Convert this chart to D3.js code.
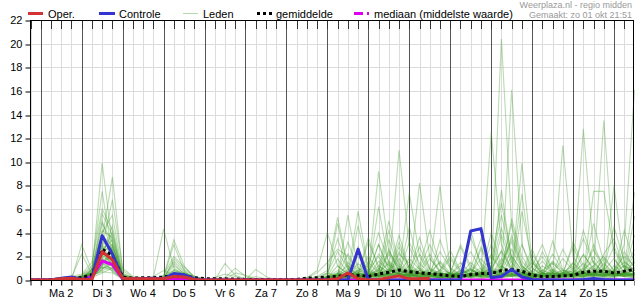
<!DOCTYPE html>
<html><head><meta charset="utf-8">
<script src="https://cdn.jsdelivr.net/npm/d3@7"></script>
<style>body{margin:0;background:#fff;} svg{display:block;font-family:"Liberation Sans",Arial,sans-serif;}</style>
</head><body><svg id="c" width="635" height="300"></svg>
<script>
// ---- data (6-hourly steps from zo 1 okt 18:00) ----
const dayLabels = ["Ma 2","Di 3","Wo 4","Do 5","Vr 6","Za 7","Zo 8","Ma 9","Di 10","Wo 11","Do 12","Vr 13","Za 14","Zo 15"];
const yTicks = [0,2,4,6,8,10,12,14,16,18,20,22];
const legendLabels = ["Oper.","Controle","Leden","gemiddelde","mediaan (middelste waarde)"];
const headerLines = ["Weerplaza.nl - regio midden","Gemaakt: zo 01 okt 21:51"];

const oper = [0,0,0,0.1,0.15, 0.05,0.05,2.4,1.7,0.15, 0.1,0.1,0.1,0.1,0.3,0.25,0.05, 0,0,0,0,0,0,0,0,0,0,0,0, 0,0.1,0.6,0.1,0,0.05,0.2,0.35,0.1,0.1,0.15];
const controle = [0,0,0,0.15,0.25, 0.05,0.1,3.75,2.2,0.1, 0.1,0.1,0.15,0.1,0.55,0.45,0.1, 0,0,0,0,0,0,0,0,0,0,0,0, 0,0,0,2.6,0,0,0,0,0,0,0,0, 0,0,4.15,4.35,0.2,0.3,0.9,0.25,0.05,0,0,0, 0,0.05,0.12,0.05,0,0,0];
const gemiddelde = [0,0,0.02,0.1,0.2, 0.2,0.45,2.6,2.1,0.25, 0.15,0.2,0.2,0.25,0.4,0.35,0.2, 0.12,0.1,0.1,0.08,0.05,0.03,0.02,0.02,0.03,0.05,0.15,0.2, 0.25,0.3,0.45,0.4,0.3,0.5,0.65,0.85,0.7,0.6,0.55,0.45, 0.35,0.3,0.45,0.55,0.55,0.8,0.9,0.75,0.4,0.3,0.3,0.35, 0.4,0.65,0.75,0.75,0.6,0.75,0.9];
const mediaan = [0,0,0,0.02,0.05, 0.05,0.3,1.6,1.3,0.1, 0.05,0.02,0.02,0.05,0.15,0.1,0.03, 0,0,0,0,0,0,0,0,0,0,0,0, 0,0,0,0,0,0,0,0,0,0,0,0, 0,0,0,0,0,0,0,0,0,0,0,0, 0,0,0,0,0,0,0];

const leden = [
[0,0,0,0.1,0.2, 0.3,0.8,9.9,3.0,0.3, 0.1,0,0,0.2,0.5,0.3,0.1, 0,0,0,0,0,0,0,0,0,0,0,0.1, 0.2,0.5,1.2,0.4,0.2,0.8,2.4,1.1,0.5,0.3,0.2,0.4, 0.3,0.1,0.5,0.8,0.4,1.5,3.2,1.0,0.2,0.1,0.3,0.5, 0.8,2.1,1.0,0.4,0.6,1.2,0.9],
[0,0,0,0,0.1, 0.2,0.6,3.5,8.7,0.8, 0.2,0.1,0,0.1,1.2,0.6,0.2, 0.1,0,0,0,0,0,0,0,0,0,0.2,0.6, 1.5,2.6,2.0,0.6,0.3,1.0,0.5,2.2,1.4,0.6,0.3,0.2, 0.5,1.2,2.4,0.9,0.3,20.4,4.5,1.2,0.4,0.2,0.8,0.5, 1.5,0.6,0.3,2.2,3.5,1.0,0.6],
[0,0,0.1,0.2,0.1, 0.4,1.2,7.5,2.1,0.2, 0,0.1,0.3,0.8,0.4,0.1,0, 0,0,1.4,0.4,0.1,0,0,0,0,0,0,0, 0,0.2,0.6,5.8,1.0,0.4,0.2,0.6,1.8,0.9,0.5,0.3, 0.2,0.6,1.0,0.4,12.5,3.0,0.8,0.3,0.2,0.5,1.4,0.6, 0.4,1.0,2.6,1.2,0.5,0.3,0.2],
[0,0,0,0,0, 0.1,0.5,2.8,6.8,1.0, 0.3,0.2,0.1,0,0.3,0.2,0.1, 0,0,0,0,0,0,0,0,0,0,0,0, 0,0.3,0.5,0.2,0.6,9.2,2.5,0.8,0.4,0.3,0.6,1.5, 0.4,0.2,0.6,1.8,0.8,0.5,16.1,3.0,0.6,0.2,0.1,0.3, 0.6,1.4,0.8,0.5,0.9,2.0,1.2],
[0,0,0,0.2,0.3, 0.5,1.5,6.0,4.2,0.4, 0.2,0.1,0,0.4,2.0,1.1,0.3, 0.1,0,0,0,0,0,0,0,0,0,0,0, 0.1,0.4,0.9,0.3,0.5,1.2,0.6,11.0,2.8,0.9,0.4,0.2, 0.3,0.5,0.9,0.3,0.2,7.6,1.5,0.4,0.2,0.6,0.3,0.2, 0.5,0.2,0.8,13.5,1.8,0.6,0.4],
[0,0,0,0.1,0.1, 0.3,0.9,4.0,5.5,0.6, 0.1,0,0,0.3,0.8,0.5,0.2, 0,0,0,0,0,0,0,0,0,0,0,0, 0.3,0.2,5.5,1.0,0.4,0.6,0.9,0.5,0.3,8.2,1.9,0.6, 0.3,0.2,0.5,0.7,0.4,1.2,0.6,9.9,1.5,0.5,0.2,0.4, 0.3,12.8,2.5,0.9,0.4,0.6,1.0],
[0,0,0.1,0,0, 3.0,0.8,5.0,2.3,0.3, 0.1,0.2,0.1,0,0.5,0.3,0, 0,0,0,0,0,0,0,0,0,0,0.1,0.3, 0.8,5.3,1.2,0.5,0.3,0.6,1.4,0.7,7.4,2.0,0.6,0.3, 0.2,0.4,1.0,3.5,0.8,0.4,0.9,0.5,0.3,0.2,3.3,0.9, 0.4,0.3,0.7,0.5,8.0,1.2,0.6],
[0,0,0,0,0.2, 2.2,0.5,2.0,4.6,0.5, 0.2,0.1,0.2,4.3,1.0,0.4,0.1, 0,0,0,0,0,0,0,0,0,0,0,0, 0.1,0.2,0.4,0.2,0.3,0.5,0.4,0.9,0.6,0.4,1.0,8.0, 0.8,0.4,0.6,0.3,0.2,0.4,0.8,0.5,0.4,0.3,0.6,11.4, 2.0,0.6,0.4,0.8,0.5,3.0,16.1],
[0,0,0,0,0, 0.2,0.9,4.2,3.6,0.2, 0,0,0.1,0.3,3.4,1.2,0.2, 0,0,0,0,0,0,0,0,0,0,0,0, 0,0.1,0.3,0.8,0.5,6.2,1.3,0.5,0.3,0.8,0.5,0.3, 0.3,0.8,0.5,0.4,0.3,0.6,0.8,7.3,1.0,0.4,0.2,0.3, 0.6,0.4,7.5,7.5,2.5,1.0,7.4],
[0,0,0,0,0, 0.1,0.6,3.8,2.9,0.3, 0.1,0,0,0.2,3.0,0.8,0.1, 0,0,0.2,1.0,0.3,0,0,0,0,0,0,0, 0.2,4.8,1.0,0.4,0.3,1.6,0.8,0.5,1.2,0.6,0.4,0.2, 0.4,1.5,0.6,0.3,1.2,5.5,1.8,0.6,0.4,0.8,1.5,0.6, 0.4,0.9,1.6,0.6,0.3,0.5,0.8],
[0,0,0,0,0, 0.3,0.4,3.2,2.6,0.2, 0.1,0.1,0,0,1.8,0.9,0.3, 0,0,0,0,0,0.9,0.3,0,0,0,0,0, 0,0.2,1.5,0.6,0.4,0.9,5.0,1.4,0.6,0.3,0.5,0.8, 2.5,0.8,0.4,0.6,3.0,1.0,0.5,0.8,2.6,0.6,0.3,0.5, 1.0,3.5,1.4,0.6,0.4,0.5,0.3],
[0,0,0.1,0.1,0, 0.2,0.7,2.6,3.4,0.4, 0.1,0.2,0.1,0.1,0.6,0.3,0.1, 0,0,0,0,0,0,0,0,0,0,0.2,0.8, 4.0,1.2,0.5,0.3,0.8,2.0,0.6,0.4,4.5,1.0,0.6,0.4, 0.6,0.3,4.2,1.2,0.5,0.8,4.8,1.6,0.6,0.3,0.5,0.8, 0.7,0.5,1.2,2.0,0.8,0.6,1.5],
[0,0,0,0,0, 0.1,0.3,2.3,3.0,0.1, 0,0,0,0.2,1.4,0.5,0.1, 0,0.2,0.5,0.3,0.1,0,0,0,0,0,0,0, 0.1,0.3,0.2,0.5,3.6,0.9,0.4,2.4,0.8,0.5,0.3,0.2, 0.3,0.2,0.6,1.0,0.4,3.8,1.2,0.5,0.3,0.4,0.9,0.6, 0.5,0.3,0.6,0.9,4.5,1.6,0.8],
[0,0,0,0,0.1, 0.4,1.0,2.9,1.6,0.3, 0.2,0.1,0.2,0.1,0.2,0.6,0.3, 0.1,0,0,0,0,0,0,0,0,0,0,0, 0,0.1,0.3,4.6,0.8,0.4,0.6,3.2,1.0,0.5,0.8,0.4, 0.2,0.5,0.3,0.6,2.2,0.9,0.4,0.6,1.5,0.5,0.3,0.2, 0.3,0.6,0.4,0.3,1.2,0.6,3.8],
[0,0,0,0,0, 0.2,0.5,2.0,2.4,0.2, 0.1,0,0,0,0.5,0.4,0.1, 0,0,0,0,0,0,0,0,0,0,0,0, 0.2,0.6,0.3,0.8,1.2,4.0,1.5,0.6,0.4,1.0,3.0,1.2, 0.5,0.3,0.4,0.3,0.5,1.0,3.5,1.2,0.5,0.4,0.3,0.5, 0.8,0.5,1.0,0.6,0.5,0.4,0.6],
[0,0,0,0,0, 0.1,0.4,1.8,2.7,0.3, 0.1,0,0,0,0.3,0.2,0, 0,0,0,0,0,0,0,0,0,0,0,0, 0,0,0.1,0.2,0.4,0.3,0.5,1.8,0.6,3.6,0.9,0.5, 0.6,2.8,0.9,0.4,0.3,0.6,0.5,0.3,0.2,0.4,0.6,0.4, 0.3,0.5,4.8,1.5,0.5,0.3,0.4],
[0,0,0,0.1,0, 0.3,0.6,1.5,1.9,0.2, 0,0.1,0.1,0.1,0.2,0.1,0, 0,0,0,0,0,0,0,0,0,0,0,0.1, 0.3,0.8,0.4,0.2,0.5,0.3,0.9,0.5,0.8,2.8,1.0,0.6, 0.4,0.3,0.5,0.4,0.9,2.4,0.8,0.4,1.8,0.6,0.4,0.3, 0.5,0.3,0.4,0.9,0.6,0.8,2.6],
[0,0,0,0,0, 0.1,0.2,1.2,1.6,0.1, 0,0,0,0,0.1,0.1,0, 0,0,0,0,0,0,0,0,0,0,0,0, 0,0.1,0.2,0.1,0.3,0.2,2.6,0.8,0.4,0.2,0.3,0.5, 0.3,0.2,0.3,0.5,0.3,0.2,0.4,0.6,0.3,2.4,0.8,0.4, 0.3,0.6,0.4,0.3,0.5,0.4,0.3],
[0,0,0,0,0, 0.2,0.4,1.0,1.3,0.2, 0.1,0,0,0,0.2,0.1,0, 0,0,0,0,0,0,0,0,0,0,0,0, 0.1,0.2,0.4,0.6,0.3,0.2,0.4,0.3,0.5,0.8,2.2,0.7, 0.3,0.5,0.2,0.4,0.3,0.5,0.3,0.2,0.4,0.3,0.2,0.6, 1.2,0.5,0.3,0.5,0.7,0.4,1.8],
[0,0,0,0,0, 0.1,0.3,0.8,1.1,0.1, 0,0,0,0,0.1,0,0, 0,0,0,0,0,0,0,0,0,0,0,0, 0,0,0.1,0.2,0.1,0.3,0.2,0.4,0.2,0.3,0.1,0.2, 0.1,0.3,0.2,0.1,0.3,0.2,0.5,0.3,0.2,0.1,0.2,0.3, 0.2,0.4,0.3,0.2,0.3,0.5,0.4],
[0,0,0,0,0, 0.2,0.5,1.4,0.9,0.1, 0,0,0,0,0.2,0.2,0.1, 0,0,0,0,0,0,0,0,0,0,0,0, 0.5,3.5,0.9,0.4,0.2,0.6,0.3,0.5,0.3,0.6,0.4,0.3, 0.4,0.6,0.3,2.6,0.9,0.5,0.8,0.4,0.3,0.6,0.4,0.3, 0.5,2.2,0.8,0.4,0.3,0.6,0.5],
[0,0,0,0,0, 0.1,0.3,2.1,1.4,0.2, 0.1,0,0,0,0.4,0.3,0.1, 0,0,0,0,0,0,0,0,0,0,0,0, 0.2,0.4,0.3,0.5,2.0,0.7,4.2,1.2,0.6,0.3,0.5,0.4, 0.3,0.4,0.5,0.3,0.6,0.4,2.0,0.8,0.4,0.3,0.5,0.4, 0.6,0.5,0.4,1.4,0.5,0.3,0.5],
[0,0,0,0,0, 0.3,0.5,1.1,0.8,0.1, 0,0,0,0,0.1,0.1,0, 0,0,0,0,0,0,0,0,0,0,0.1,0.2, 0.6,0.3,0.2,2.8,0.6,0.4,0.5,0.3,0.6,0.4,0.3,0.2, 0.4,0.3,0.9,0.5,0.3,0.4,0.3,0.6,0.4,0.8,0.5,0.3, 0.4,0.6,0.5,0.4,0.3,0.6,0.4],
[0,0,0,0,0, 0.1,0.2,0.6,1.0,0.1, 0,0,0,0,0,0,0, 0,0,0,0,0,0,0,0,0,0,0,0, 0,0.1,0.2,0.1,0.3,0.5,0.3,0.2,0.4,0.3,0.2,0.6, 1.8,0.6,0.3,0.2,0.4,0.3,0.5,0.4,0.3,0.2,0.4,0.3, 0.2,0.3,0.5,0.4,0.6,0.3,0.2],
[0,0,0,0,0, 0.2,0.4,1.7,2.0,0.2, 0.1,0,0,0.1,0.6,0.4,0.1, 0,0,0,0,0.1,0.3,0.1,0,0,0,0,0, 0.1,0.2,0.5,0.3,0.6,3.0,1.0,0.5,0.3,0.2,0.4,0.3, 0.5,0.3,0.4,0.6,0.4,0.3,0.5,0.4,1.2,3.0,0.8,0.4, 0.3,0.4,0.6,0.3,0.4,0.5,0.4],
[0,0,0,0,0, 0.1,0.3,0.9,1.8,0.2, 0,0,0,0,0.2,0.1,0, 0,0,0,0,0,0,0,0,0,0,0,0, 0.2,0.1,0.3,0.2,0.4,0.3,0.6,3.8,0.9,0.5,0.3,0.2, 0.3,0.4,0.3,0.5,0.4,0.3,0.4,0.3,0.2,0.4,0.3,0.5, 0.4,0.3,0.5,0.6,0.4,0.5,0.3],
[0,0,0,0,0, 0.2,0.6,2.4,1.2,0.2, 0,0,0,0,0.3,0.2,0, 0,0,0,0,0,0,0,0,0,0,0,0, 0,0.2,0.4,0.3,0.2,0.4,0.3,0.5,0.8,0.5,0.3,3.4, 1.0,0.4,0.3,0.5,0.6,0.4,0.3,0.5,0.4,0.3,0.6,0.4, 0.3,0.5,0.4,0.3,0.6,0.4,0.5],
[0,0,0,0,0, 0.1,0.2,1.3,2.2,0.1, 0,0,0,0,0.1,0,0, 0,0,0,0,0,0,0,0,0,0,0,0, 0.1,0.3,0.2,0.4,0.3,0.6,0.4,0.3,0.2,0.4,0.3,0.2, 0.2,0.3,0.5,0.2,0.3,0.5,0.4,0.3,0.2,0.6,0.4,0.3, 0.5,0.4,0.3,0.5,0.4,0.3,0.6],
[0,0,0,0,0, 0.3,0.4,0.7,0.6,0.1, 0,0,0,0,0,0,0, 0,0,0,0,0,0,0,0,0,0,0,0, 0.2,0.3,0.2,0.1,0.2,0.4,0.2,0.3,0.5,0.2,0.4,0.3, 0.2,0.3,0.2,0.4,0.3,0.2,0.3,0.4,0.2,0.3,0.2,0.4, 0.3,0.2,0.4,0.3,0.2,0.4,0.3],
[0,0,0,0,0, 0.2,0.5,2.8,1.1,0.2, 0.1,0,0,0,0.9,0.6,0.2, 0,0,0,0,0,0,0,0,0,0,0,0, 0.3,0.4,2.2,0.8,0.4,0.3,0.6,0.9,0.4,0.3,0.5,0.4, 0.3,0.5,0.4,0.3,0.8,0.6,0.4,0.3,0.5,0.4,0.3,0.5, 0.4,0.6,0.5,0.4,0.8,1.2,0.6],
[0,0,0,0,0, 0.1,0.4,1.6,1.2,0.1, 0,0,0,0,0.1,0.1,0, 0,0,0,0,0,0,0,0,0,0,0,0, 0.2,0.3,0.6,0.4,0.3,0.5,0.8,0.5,0.3,0.4,0.6,0.5, 0.4,0.6,0.8,0.5,1.5,6.5,2.0,0.8,0.4,0.3,0.5,0.6, 2.8,0.9,0.5,0.4,0.6,0.5,0.4],
[0,0,0,0,0, 0.2,0.3,0.9,1.5,0.1, 0,0,0,0,0.2,0.1,0, 0,0,0,0,0,0,0,0,0,0,0,0, 0.1,0.2,0.3,0.5,0.4,0.3,0.5,0.4,0.3,0.5,0.4,0.6, 0.5,0.4,0.3,0.6,0.5,0.8,5.2,2.0,0.6,0.3,0.4,0.5, 0.6,0.4,0.5,0.8,0.6,4.2,1.4],
[0,0,0,0,0, 0.1,0.2,1.9,0.7,0.1, 0,0,0,0,0.1,0.1,0, 0,0,0,0,0,0,0,0,0,0,0,0, 0.3,0.5,0.4,0.3,0.6,0.4,0.5,0.3,0.4,0.6,0.5,0.4, 0.3,0.4,0.6,0.4,4.0,1.2,0.6,0.4,0.8,2.0,0.6,0.4, 0.5,0.6,2.0,0.8,0.5,0.4,0.5],
[0,0,0,0,0, 0.2,0.6,3.0,2.2,0.2, 0.1,0,0,0.1,0.7,0.5,0.1, 0,0,0,0,0,0,0,0,0,0,0,0, 0.2,0.4,0.3,0.6,0.4,0.8,0.5,0.6,0.4,0.8,0.5,0.6, 0.4,0.5,0.3,0.5,0.8,0.6,0.4,5.8,1.6,0.6,0.4,0.5, 0.4,0.6,0.8,0.5,0.4,0.6,0.8],
[0,0,0,0,0, 0.1,0.3,1.4,2.5,0.2, 0,0,0,0,0.3,0.2,0, 0,0,0,0,0,0,0,0,0,0,0,0, 0.1,0.2,0.4,0.3,0.5,0.4,0.6,0.4,0.5,0.3,0.4,0.5, 0.6,0.5,0.4,0.3,0.6,0.4,0.5,0.3,0.4,0.5,0.6,2.6, 0.9,0.6,0.5,0.4,0.5,0.6,5.4],
[0,0,0,0,0, 0.2,0.4,1.1,1.0,0.1, 0,0,0,0,0.1,0,0, 0,0,0,0,0,0,0,0,0,0,0,0, 0.2,0.4,0.3,0.2,0.5,0.3,0.4,0.6,0.3,0.5,0.4,0.3, 0.5,0.4,0.3,0.5,0.4,0.3,0.6,0.4,0.5,0.3,0.4,0.6, 0.5,0.8,0.6,0.4,0.5,0.6,0.5],
[0,0,0,0,0, 0.2,0.5,3.6,2.0,0.2, 0.1,0,0,0.1,0.5,0.3,0.1, 0,0,0,0,0,0,0,0,0,0,0,0.2, 0.6,2.4,1.0,0.5,3.2,1.2,0.6,2.8,1.0,0.6,1.8,0.8, 0.6,3.0,1.2,0.6,0.9,2.5,1.0,0.6,0.4,1.2,0.6,0.5, 3.2,1.2,0.6,1.8,0.8,0.6,2.2],
[0,0,0,0.1,0.1, 0.3,0.7,4.8,3.2,0.3, 0.2,0.1,0,0.2,1.6,0.7,0.2, 0,0,0,0.6,0.4,0.1,0,0,0,0,0,0, 0.2,0.5,3.2,1.0,0.5,2.2,1.2,0.6,3.2,1.4,0.6,2.4, 1.0,0.5,3.6,1.4,0.6,0.8,3.8,1.2,0.5,0.4,1.6,0.8, 0.5,4.2,1.5,0.6,0.4,2.4,1.0],
[0,0,0,0,0, 0.1,0.8,5.6,3.8,0.4, 0.2,0.1,0.1,0.1,0.8,0.5,0.1, 0,0,0,0,0,0,0,0,0,0,0,0, 0.3,1.8,0.6,0.4,1.5,0.6,3.4,1.0,0.5,2.2,0.9,0.5, 0.4,0.8,0.5,2.8,1.0,4.4,1.5,0.6,2.2,0.8,0.5,0.4, 0.6,0.5,3.0,1.0,0.6,0.5,0.8],
[0,0,0,0,0, 0.2,0.4,2.2,4.0,0.3, 0.1,0,0,0,0.6,0.4,0.1, 0,0,0,0,0,0,0,0,0,0,0,0, 0.1,0.4,0.8,2.0,0.7,0.5,1.6,0.8,0.5,1.2,4.2,1.2, 0.5,0.6,0.8,0.5,2.0,0.8,0.6,3.0,1.0,0.5,0.6,1.8, 0.8,0.6,0.5,1.0,2.8,1.0,0.6],
[0,0,0,0,0, 0.1,0.3,1.2,2.9,0.2, 0,0,0,0,0.2,0.2,0, 0,0,0,0,0,0,0,0,0,0,0,0, 0.3,0.6,0.4,1.4,0.6,3.0,0.8,0.5,0.9,0.6,0.4,0.8, 2.0,0.8,0.5,0.6,1.0,0.7,2.6,1.0,0.5,0.6,2.2,0.8, 0.5,0.6,1.2,0.6,0.8,1.5,0.9],
[0,0,0,0,0, 0.2,0.6,2.5,1.8,0.2, 0.1,0,0,0,0.3,0.2,0, 0,0,0,0,0,0,0,0,0,0,0,0, 0.2,1.2,0.5,0.3,0.6,0.4,2.2,0.8,0.4,0.6,0.5,1.6, 0.6,0.4,1.5,0.6,0.4,1.8,0.8,0.5,0.6,1.6,0.6,0.5, 1.4,0.6,0.5,0.8,1.8,0.7,0.5]
];

// ---- colours ----
const C_OPER = "#d23232", C_CTRL = "#3434d0", C_LEDEN = "#3f9b2a", C_MEAN = "#000", C_MED = "#dd00ee";

// ---- scales ----
const t0 = new Date(2023, 9, 1, 18), t1 = new Date(2023, 9, 16, 12);
const STEP = 6 * 3600 * 1000;
const tAt = i => new Date(t0.getTime() + i * STEP);
const L = 30, R = 634, T = 20, B = 280;
const x = d3.scaleTime().domain([t0, t1]).range([L + 0.5, R + 0.5]);
const y = d3.scaleLinear().domain([0, 22]).range([B, T]);
const px = v => Math.round(v) + 0.5;

const svg = d3.select("#c");
svg.append("defs").append("clipPath").attr("id", "clip")
  .append("rect").attr("x", L).attr("y", T).attr("width", R - L + 1).attr("height", B - T);

// grid
const sixH = d3.timeHour.every(6).range(t0, new Date(t1.getTime() + 1));
const days = d3.timeDay.range(d3.timeDay.ceil(t0), t1);
const g = svg.append("g");
g.selectAll(".hg").data(yTicks.filter(v => v > 0 && v < 22)).join("line")
  .attr("x1", L).attr("x2", R).attr("y1", d => px(y(d))).attr("y2", d => px(y(d)))
  .attr("stroke", "#dcdcdc").attr("stroke-width", 1);
g.selectAll(".vg").data(sixH).join("line")
  .attr("x1", d => px(x(d))).attr("x2", d => px(x(d))).attr("y1", T).attr("y2", B)
  .attr("stroke", "#dcdcdc").attr("stroke-width", 1);
g.selectAll(".dl").data(days).join("line")
  .attr("x1", d => px(x(d))).attr("x2", d => px(x(d))).attr("y1", T).attr("y2", B)
  .attr("stroke", "#555").attr("stroke-width", 1);
// top inward ticks
g.selectAll(".tt").data(sixH).join("line")
  .attr("x1", d => px(x(d))).attr("x2", d => px(x(d))).attr("y1", T).attr("y2", T + 9)
  .attr("stroke", "#333").attr("stroke-width", 1);

// series
const line = d3.line().x((d, i) => x(tAt(i))).y(d => y(d));
const lines = svg.append("g").attr("clip-path", "url(#clip)");
lines.selectAll(".m").data(leden).join("path")
  .attr("d", line).attr("fill", "none").attr("stroke", C_LEDEN)
  .attr("stroke-opacity", 0.36).attr("stroke-width", 1.1);
lines.append("path").attr("d", line(mediaan)).attr("fill", "none")
  .attr("stroke", C_MED).attr("stroke-width", 3);
lines.append("path").attr("d", line(gemiddelde)).attr("fill", "none")
  .attr("stroke", C_MEAN).attr("stroke-width", 3).attr("stroke-dasharray", "3,3");
lines.append("path").attr("d", line(controle)).attr("fill", "none")
  .attr("stroke", C_CTRL).attr("stroke-width", 3).attr("stroke-linejoin", "round");
lines.append("path").attr("d", line(oper)).attr("fill", "none")
  .attr("stroke", C_OPER).attr("stroke-width", 3).attr("stroke-linejoin", "round");

// frame
svg.append("rect").attr("x", L + 0.5).attr("y", T + 0.5).attr("width", R - L - 1).attr("height", B - T)
  .attr("fill", "none").attr("stroke", "#000").attr("stroke-width", 1);

// axes
const yAxis = d3.axisLeft(y).tickValues(yTicks).tickSize(5).tickPadding(3).tickFormat(d3.format("d"));
svg.append("g").attr("transform", `translate(${L + 0.5},0)`).call(yAxis)
  .call(a => a.select(".domain").remove())
  .call(a => a.selectAll("text").attr("font-size", 11).attr("font-family", "Liberation Sans, Arial, sans-serif").attr("fill", "#000"))
  .call(a => a.selectAll(".tick line").attr("stroke", "#000").attr("transform", d => `translate(0,${px(y(d)) - y(d)})`));

const xAxis = d3.axisBottom(x).tickValues(sixH).tickSize(5).tickFormat("");
svg.append("g").attr("transform", `translate(0,${B + 0.5})`).call(xAxis)
  .call(a => a.select(".domain").remove())
  .call(a => a.selectAll(".tick line").attr("stroke", "#000"));

svg.append("g").selectAll("text").data(dayLabels).join("text")
  .attr("x", (d, i) => x(new Date(2023, 9, 2 + i, 12)))
  .attr("y", 296.5).attr("text-anchor", "middle").attr("font-size", 11).attr("fill", "#000")
  .text(d => d);

// legend
const lg = svg.append("g");
const legX = [[28, 43, 48], [99, 115, 119], [183, 198, 203], [257, 272, 276], [354, 370, 374]];
const legY = 13.5;
lg.append("line").attr("x1", legX[0][0]).attr("x2", legX[0][1]).attr("y1", legY).attr("y2", legY).attr("stroke", C_OPER).attr("stroke-width", 3);
lg.append("line").attr("x1", legX[1][0]).attr("x2", legX[1][1]).attr("y1", legY).attr("y2", legY).attr("stroke", C_CTRL).attr("stroke-width", 3);
lg.append("line").attr("x1", legX[2][0]).attr("x2", legX[2][1]).attr("y1", legY).attr("y2", legY).attr("stroke", "#b6dbab").attr("stroke-width", 1);
lg.append("line").attr("x1", legX[3][0]).attr("x2", legX[3][1]).attr("y1", legY).attr("y2", legY).attr("stroke", "#000").attr("stroke-width", 3).attr("stroke-dasharray", "3,3");
lg.append("line").attr("x1", legX[4][0]).attr("x2", legX[4][1]).attr("y1", legY).attr("y2", legY).attr("stroke", C_MED).attr("stroke-width", 3).attr("stroke-dasharray", "9,4,2,10");
lg.selectAll("text").data(legendLabels).join("text")
  .attr("x", (d, i) => legX[i][2]).attr("y", 17.5).attr("font-size", 11).attr("fill", "#000").text(d => d);

// header
svg.append("g").selectAll("text").data(headerLines).join("text")
  .attr("x", 632).attr("y", (d, i) => 7.5 + i * 10).attr("text-anchor", "end")
  .attr("font-size", 9).attr("fill", "#999").text(d => d);
</script></body></html>
